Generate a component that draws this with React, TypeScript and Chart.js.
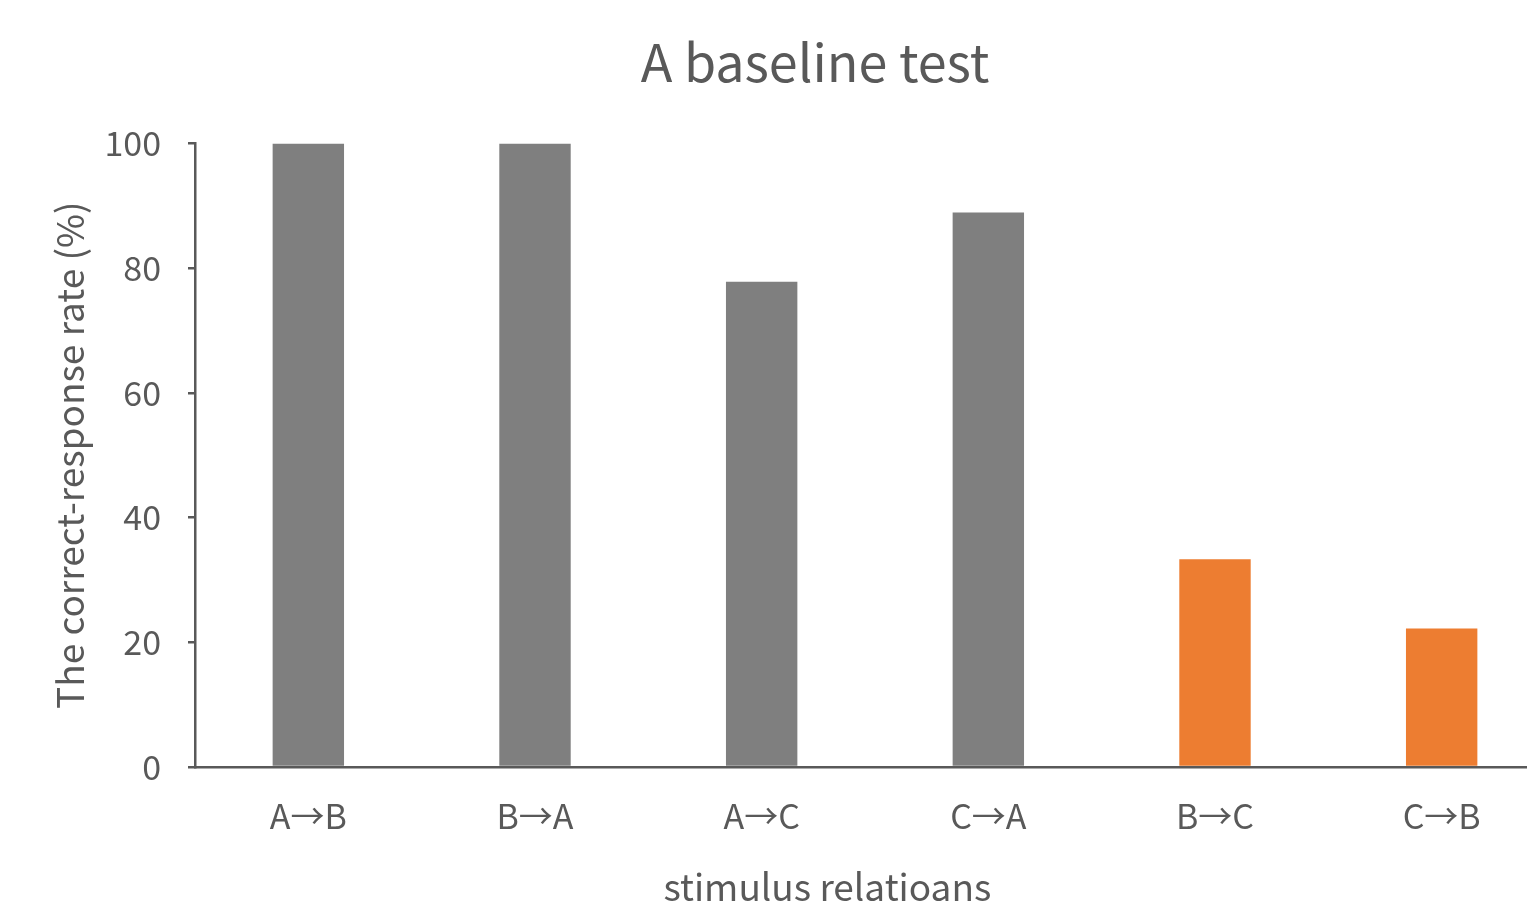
import React, { useEffect, useRef } from "react";
import { Chart, registerables } from "chart.js";

Chart.register(...registerables);

const categories = ["A→B", "B→A", "A→C", "C→A", "B→C", "C→B"];
const values = [100, 100, 77.8, 88.9, 33.3, 22.2];
const barColors = ["#7F7F7F", "#7F7F7F", "#7F7F7F", "#7F7F7F", "#ED7D31", "#ED7D31"];
const yTicks = [0, 20, 40, 60, 80, 100];
const titleText = "A baseline test";
const xTitle = "stimulus relatioans";
const yTitle = "The correct-response rate (%)";

const FONT = "'Noto Sans CJK SC', 'Open Sans', sans-serif";
const TEXT = "#595959";
const AXIS = "#595959";

const xTitlePlugin = {
  id: "xTitlePlugin",
  afterDraw(chart: any) {
    const ctx = chart.ctx;
    const a = chart.chartArea;
    ctx.save();
    ctx.fillStyle = TEXT;
    ctx.font = `37px ${FONT}`;
    ctx.textAlign = "center";
    ctx.textBaseline = "middle";
    const x = a.left + (a.right - a.left) * 0.465;
    ctx.fillText(xTitle, x, chart.height - 22);
    ctx.restore();
  },
};

export default function App() {
  const ref = useRef<HTMLCanvasElement | null>(null);
  useEffect(() => {
    document.body.style.margin = "0";
    document.body.style.overflow = "hidden";
    const canvas = ref.current;
    if (!canvas) return;
    const chart = new Chart(canvas, {
      type: "bar",
      data: {
        labels: categories,
        datasets: [
          {
            data: values,
            backgroundColor: barColors,
            borderWidth: 0,
            categoryPercentage: 1,
            barPercentage: 0.315,
            yAxisID: "y",
          },
        ],
      },
      options: {
        animation: false,
        responsive: false,
        devicePixelRatio: 1,
        layout: { padding: 0 },
        plugins: {
          legend: { display: false },
          tooltip: { enabled: false },
          title: {
            display: true,
            text: titleText,
            color: TEXT,
            font: { family: FONT, size: 52, weight: "normal" },
            padding: { top: 31, bottom: 50 },
            align: "center",
          },
        },
        scales: {
          x: {
            afterFit: (s: any) => {
              s.height = 142;
            },
            grid: { display: false, drawTicks: false },
            border: { display: true, color: AXIS, width: 2.5 },
            ticks: {
              color: TEXT,
              font: { family: FONT, size: 34 },
              padding: 29,
            },
          },
          y: {
            min: 0,
            max: 100,
            afterFit: (s: any) => {
              s.width = 195;
            },
            afterBuildTicks: (s: any) => {
              s.ticks = yTicks.map((v) => ({ value: v }));
            },
            grid: {
              drawOnChartArea: false,
              drawTicks: true,
              tickLength: 7,
              color: AXIS,
              lineWidth: 2.5,
            },
            border: { display: true, color: AXIS, width: 2.5 },
            ticks: {
              color: TEXT,
              font: { family: FONT, size: 34 },
              padding: 27,
            },
            title: {
              display: true,
              text: yTitle,
              color: TEXT,
              font: { family: FONT, size: 37 },
              padding: { top: 48, bottom: 0 },
            },
          },
          y2: {
            position: "right",
            min: 0,
            max: 100,
            afterFit: (s: any) => {
              s.width = 75;
            },
            grid: { display: false, drawTicks: false },
            border: { display: false },
            ticks: { display: false },
          },
        },
      },
      plugins: [xTitlePlugin],
    });
    return () => chart.destroy();
  }, []);
  return (
    <div style={{ width: 1527, height: 909, overflow: "hidden" }}>
      <canvas ref={ref} width={1630} height={909} style={{ display: "block", width: 1630, height: 909 }} />
    </div>
  );
}
